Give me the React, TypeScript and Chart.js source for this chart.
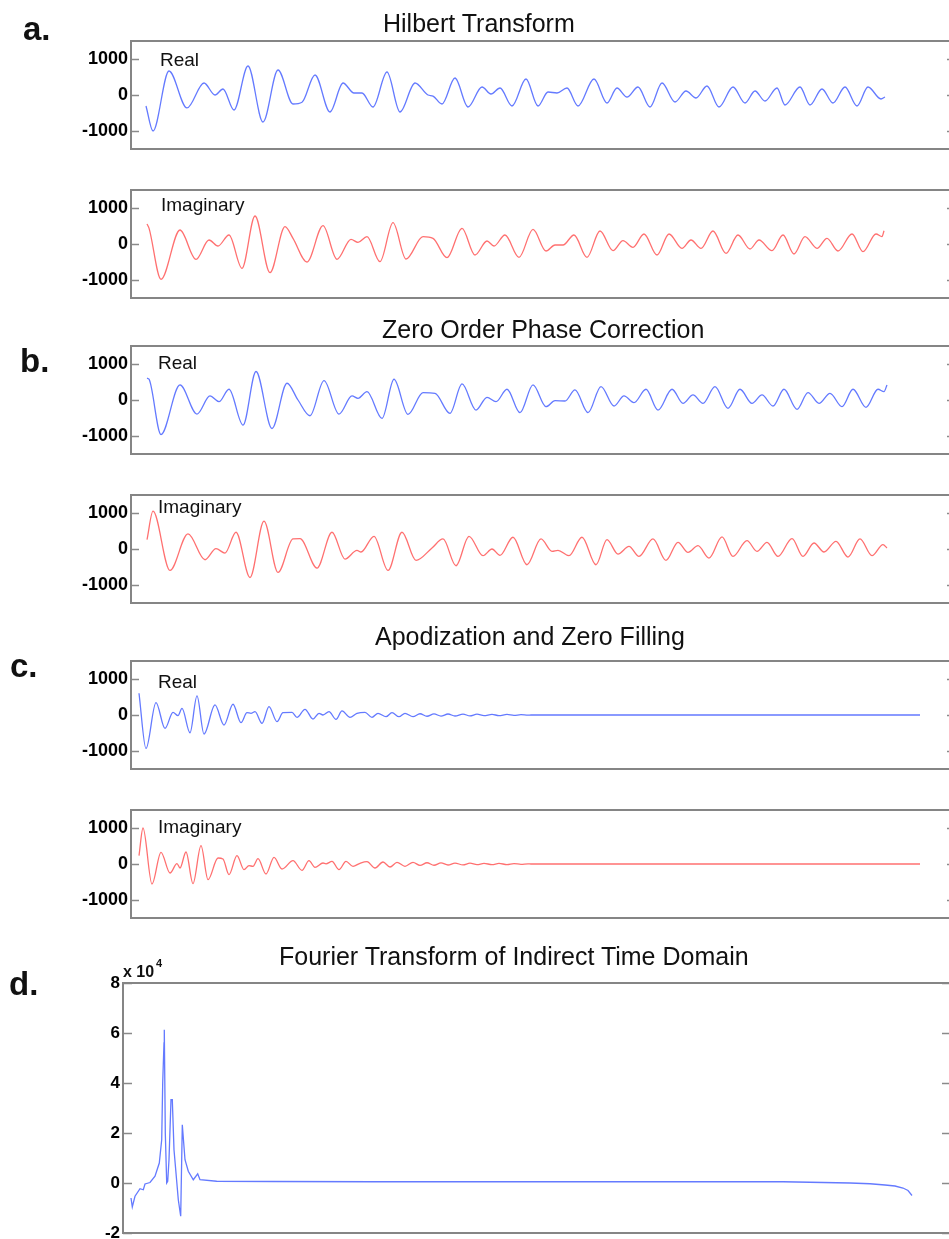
import React, { useEffect, useRef } from "react";
import { Chart, registerables } from "chart.js";

Chart.register(...registerables);

const FONT = '"Liberation Sans", Arial, Helvetica, sans-serif';

// ---------- data (x: sample index, y: signal value) ----------
const hilbertReal: [number, number][] = [
  [15, -305], [22, -1000], [38, 667], [56, -360], [73, 333], [84, 0], [92, 167], [103, -417],
  [117, 806], [132, -750], [147, 694], [162, -250], [171, -200], [184, 556], [199, -472],
  [212, 333], [223, 56], [231, 56], [242, -333], [256, 639], [269, -472], [284, 333], [297, 0],
  [302, -30], [311, -250], [324, 472], [337, -333], [351, 222], [360, 28], [369, 194],
  [381, -305], [395, 444], [407, -305], [417, 83], [426, 56], [436, 194], [447, -305],
  [463, 444], [476, -222], [486, 194], [496, -56], [507, 222], [519, -333], [531, 333],
  [544, -194], [555, 111], [565, -83], [576, 250], [588, -333], [602, 222], [614, -222],
  [624, 111], [634, -167], [646, 194], [654, -278], [669, 222], [679, -278], [691, 167],
  [702, -222], [714, 222], [726, -305], [737, 222], [750, -111], [754, -56],
];

const hilbertImag: [number, number][] = [
  [16, 556], [18, 440], [30, -981], [49, 389], [65, -426], [78, 111], [87, -56], [98, 250],
  [111, -676], [124, 778], [139, -796], [154, 481], [162, 157], [176, -500], [192, 509],
  [206, -426], [220, 130], [227, 46], [236, 204], [249, -491], [262, 593], [275, -417],
  [292, 204], [302, 157], [316, -380], [331, 435], [344, -306], [356, 83], [363, -56],
  [374, 250], [388, -370], [402, 407], [415, -194], [424, -28], [432, -28], [443, 250],
  [456, -370], [469, 361], [482, -185], [492, 93], [502, -93], [513, 278], [526, -306],
  [538, 278], [551, -120], [560, 111], [570, -120], [582, 361], [595, -259], [607, 250],
  [619, -139], [628, 111], [641, -185], [652, 250], [663, -278], [674, 204], [686, -120],
  [696, 157], [707, -194], [721, 278], [732, -213], [745, 278], [751, 204], [753, 370],
];

const phaseReal: [number, number][] = [
  [16, 605], [18, 577], [30, -958], [49, 419], [66, -391], [79, 112], [88, -47], [98, 298],
  [112, -698], [125, 791], [141, -791], [156, 465], [167, 0], [179, -437], [193, 540],
  [208, -391], [221, 112], [227, 47], [236, 233], [251, -512], [263, 577], [277, -400],
  [292, 205], [304, 186], [319, -372], [331, 447], [345, -279], [356, 74], [365, -47],
  [376, 298], [389, -353], [402, 419], [415, -186], [424, -19], [434, -28], [444, 279],
  [457, -353], [470, 372], [483, -167], [493, 112], [503, -74], [515, 298], [527, -279],
  [541, 298], [552, -93], [562, 140], [572, -93], [584, 372], [597, -233], [609, 298],
  [621, -93], [631, 140], [642, -167], [653, 298], [666, -260], [677, 205], [688, -93],
  [699, 186], [711, -186], [722, 298], [735, -205], [747, 298], [753, 233], [756, 419],
];

const phaseImag: [number, number][] = [
  [16, 260], [22, 1051], [39, -595], [57, 419], [74, -298], [85, 9], [94, -112], [105, 465],
  [119, -791], [133, 772], [147, -651], [162, 279], [169, 288], [186, -530], [201, 465],
  [214, -279], [226, -37], [230, -84], [243, 353], [257, -595], [271, 465], [285, -316],
  [301, 28], [312, 279], [325, -465], [338, 353], [352, -186], [361, 0], [369, -177],
  [382, 326], [396, -437], [410, 279], [421, -65], [427, -37], [438, -186], [451, 326],
  [465, -437], [476, 260], [487, -140], [498, 74], [508, -205], [522, 279], [535, -316],
  [547, 186], [557, -93], [567, 93], [578, -251], [591, 335], [602, -205], [616, 233],
  [626, -65], [636, 186], [647, -205], [661, 288], [672, -205], [683, 167], [693, -84],
  [705, 214], [717, -223], [729, 279], [741, -186], [752, 121], [756, 28],
];

const apodReal: [number, number][] = [
  [8, 605], [15, -930], [25, 344], [34, -372], [42, 74], [47, -19], [51, 186], [59, -493],
  [66, 530], [73, -530], [84, 279], [93, -279], [102, 298], [110, -214], [116, 65], [120, 47],
  [124, 93], [131, -233], [138, 233], [146, -186], [152, 65], [161, 74], [166, -65], [174, 158],
  [182, -112], [188, 47], [192, 0], [198, 93], [205, -121], [211, 112], [219, -65], [226, 47],
  [234, 74], [241, -65], [247, 47], [255, -47], [261, 65], [268, -47], [274, 47], [282, -47],
  [289, 35], [296, -35], [303, 30], [310, -30], [317, 28], [324, -28], [332, 25], [339, -25],
  [346, 22], [353, -20], [361, 18], [368, -18], [376, 15], [383, -12], [390, 10], [397, -5],
  [400, 0], [789, 0],
];

const apodImag: [number, number][] = [
  [8, 231], [12, 1000], [21, -556], [30, 324], [39, -250], [46, 9], [49, -111], [55, 333],
  [62, -546], [70, 509], [77, -435], [87, 167], [92, 139], [98, -296], [106, 231], [113, -157],
  [118, -46], [122, -65], [127, 148], [135, -278], [143, 185], [151, -139], [162, 93],
  [171, -176], [178, 93], [184, -93], [192, 28], [195, 5], [201, 74], [208, -157], [215, 74],
  [222, -65], [229, 20], [236, 65], [244, -111], [252, 56], [259, -83], [266, 46], [274, -65],
  [282, 46], [289, -40], [296, 35], [303, -35], [310, 30], [317, -28], [324, 25], [332, -25],
  [339, 22], [346, -20], [353, 18], [361, -18], [368, 15], [376, -15], [383, 12], [390, -8],
  [397, 5], [400, 0], [789, 0],
];

// Fourier transform (units of 1e4)
const fourierSpectrum: [number, number][] = [
  [8, -0.6], [9.3, -0.96], [12, -0.53], [17, -0.23], [20.3, -0.27], [22, -0.04], [27, 0.02],
  [32, 0.27], [36.3, 0.8], [38.7, 1.73], [39.7, 4.0], [41, 5.6], [41.3, 6.13], [42.3, 2.0],
  [43.7, 0], [44.7, 0.07], [46, 0.93], [48, 3.33], [49.3, 3.33], [51, 1.33], [55.3, -0.67],
  [57.7, -1.33], [59.3, 2.33], [62, 0.93], [65.3, 0.47], [70.3, 0.13], [74.7, 0.37], [77, 0.13],
  [93.7, 0.07], [150, 0.06], [250, 0.05], [350, 0.05], [450, 0.05], [550, 0.05], [660, 0.05],
  [727, 0], [747, -0.03], [762, -0.08], [772, -0.12], [780, -0.2], [785, -0.3], [789, -0.5],
];

const timeTicks = [-1000, 0, 1000];
const freqTicks = [-2, 0, 2, 4, 6, 8];

// ---------- layout / style ----------
const BLUE = "rgb(100,122,255)";
const RED = "rgb(255,112,112)";
const CANVAS_W = 1000;
const PAD = 16;

type PanelCfg = {
  key: string;
  points: [number, number][];
  color: string;
  top: number;
  height: number;
  left: number;
  right: number;
  xMax: number;
  yMin: number;
  yMax: number;
  ticks: number[];
  tickSize: number;
  tickLen: number;
  smooth: boolean;
};

const timePanel = (key: string, points: [number, number][], color: string, top: number): PanelCfg => ({
  key, points, color, top, height: 108, left: 131, right: 955, xMax: 824,
  yMin: -1500, yMax: 1500, ticks: timeTicks, tickSize: 18, tickLen: 8, smooth: true,
});

const panels: PanelCfg[] = [
  timePanel("aR", hilbertReal, BLUE, 41),
  timePanel("aI", hilbertImag, RED, 190),
  timePanel("bR", phaseReal, BLUE, 346),
  timePanel("bI", phaseImag, RED, 495),
  timePanel("cR", apodReal, BLUE, 661),
  timePanel("cI", apodImag, RED, 810),
  {
    key: "d", points: fourierSpectrum, color: BLUE, top: 983, height: 250, left: 123, right: 951,
    xMax: 828, yMin: -2, yMax: 8, ticks: freqTicks, tickSize: 17, tickLen: 9, smooth: false,
  },
];

const framePlugin = {
  id: "frame",
  afterDraw(chart: any, _args: any, opts: any) {
    const { ctx, chartArea } = chart;
    const { left, right, top, bottom } = chartArea;
    const y = chart.scales.y;
    ctx.save();
    ctx.strokeStyle = "#8a8a8a";
    ctx.lineWidth = 1.5;
    for (const t of y.ticks) {
      const py = Math.round(y.getPixelForValue(t.value)) + 0.5;
      ctx.beginPath();
      ctx.moveTo(left, py);
      ctx.lineTo(left + opts.tickLen, py);
      ctx.moveTo(right, py);
      ctx.lineTo(right - opts.tickLen, py);
      ctx.stroke();
    }
    ctx.strokeStyle = "#858585";
    ctx.lineWidth = 2;
    ctx.strokeRect(left, top, right - left, bottom - top);
    ctx.restore();
  },
};

function Panel({ cfg }: { cfg: PanelCfg }) {
  const ref = useRef<HTMLCanvasElement>(null);
  const h = cfg.height + PAD * 2;
  useEffect(() => {
    const chart = new Chart(ref.current as HTMLCanvasElement, {
      type: "line",
      data: {
        datasets: [
          {
            data: cfg.points.map(([x, y]) => ({ x, y })),
            borderColor: cfg.color,
            borderWidth: 1.3,
            pointRadius: 0,
            fill: false,
            tension: 0,
            cubicInterpolationMode: cfg.smooth ? "monotone" : "default",
          } as any,
        ],
      },
      options: {
        responsive: false,
        animation: false,
        devicePixelRatio: 1,
        events: [],
        layout: { padding: { left: 0, right: CANVAS_W - cfg.right, top: PAD, bottom: PAD } },
        plugins: {
          legend: { display: false },
          tooltip: { enabled: false },
          title: { display: false },
          frame: { tickLen: cfg.tickLen },
        } as any,
        scales: {
          x: { type: "linear", display: false, min: 0, max: cfg.xMax },
          y: {
            type: "linear",
            min: cfg.yMin,
            max: cfg.yMax,
            afterFit: (s: any) => {
              s.width = cfg.left;
            },
            afterBuildTicks: (s: any) => {
              s.ticks = cfg.ticks.map((v) => ({ value: v }));
            },
            grid: { display: false, drawTicks: false },
            border: { display: false },
            ticks: {
              padding: 3,
              color: "#000",
              font: { family: FONT, size: cfg.tickSize, weight: "bold" },
              callback: (v: any) => String(v),
            },
          },
        },
      },
      plugins: [framePlugin],
    });
    return () => chart.destroy();
  }, []);
  return (
    <canvas
      ref={ref}
      width={CANVAS_W}
      height={h}
      style={{ position: "absolute", left: 0, top: cfg.top - PAD, width: CANVAS_W, height: h }}
    />
  );
}

function Txt({ text, left, baseline, size, bold }: { text: string; left: number; baseline: number; size: number; bold?: boolean }) {
  return (
    <div
      style={{
        position: "absolute",
        left,
        top: baseline - 0.8465 * size,
        fontFamily: FONT,
        fontSize: size,
        lineHeight: `${size}px`,
        fontWeight: bold ? "bold" : "normal",
        whiteSpace: "nowrap",
        color: "#111",
      }}
    >
      {text}
    </div>
  );
}

const texts = [
  { text: "a.", left: 23, baseline: 39.5, size: 33, bold: true },
  { text: "b.", left: 20, baseline: 372, size: 33, bold: true },
  { text: "c.", left: 10, baseline: 677, size: 33, bold: true },
  { text: "d.", left: 9, baseline: 995, size: 33, bold: true },
  { text: "Hilbert Transform", left: 383, baseline: 32.5, size: 25 },
  { text: "Zero Order Phase Correction", left: 382, baseline: 338, size: 25 },
  { text: "Apodization and Zero Filling", left: 375, baseline: 645, size: 25 },
  { text: "Fourier Transform of Indirect Time Domain", left: 279, baseline: 965, size: 25 },
  { text: "Real", left: 160, baseline: 66, size: 19 },
  { text: "Imaginary", left: 161, baseline: 210.7, size: 19 },
  { text: "Real", left: 158, baseline: 369.3, size: 19 },
  { text: "Imaginary", left: 158, baseline: 513.5, size: 19 },
  { text: "Real", left: 158, baseline: 688.3, size: 19 },
  { text: "Imaginary", left: 158, baseline: 833.3, size: 19 },
  { text: "x 10", left: 123, baseline: 978, size: 16, bold: true },
  { text: "4", left: 156, baseline: 967, size: 11, bold: true },
];

export default function App() {
  return (
    <div
      style={{
        position: "absolute",
        left: 0,
        top: 0,
        width: 949,
        height: 1239,
        overflow: "hidden",
        background: "#fff",
      }}
    >
      {panels.map((p) => (
        <Panel key={p.key} cfg={p} />
      ))}
      {texts.map((t, i) => (
        <Txt key={i} {...t} />
      ))}
    </div>
  );
}
